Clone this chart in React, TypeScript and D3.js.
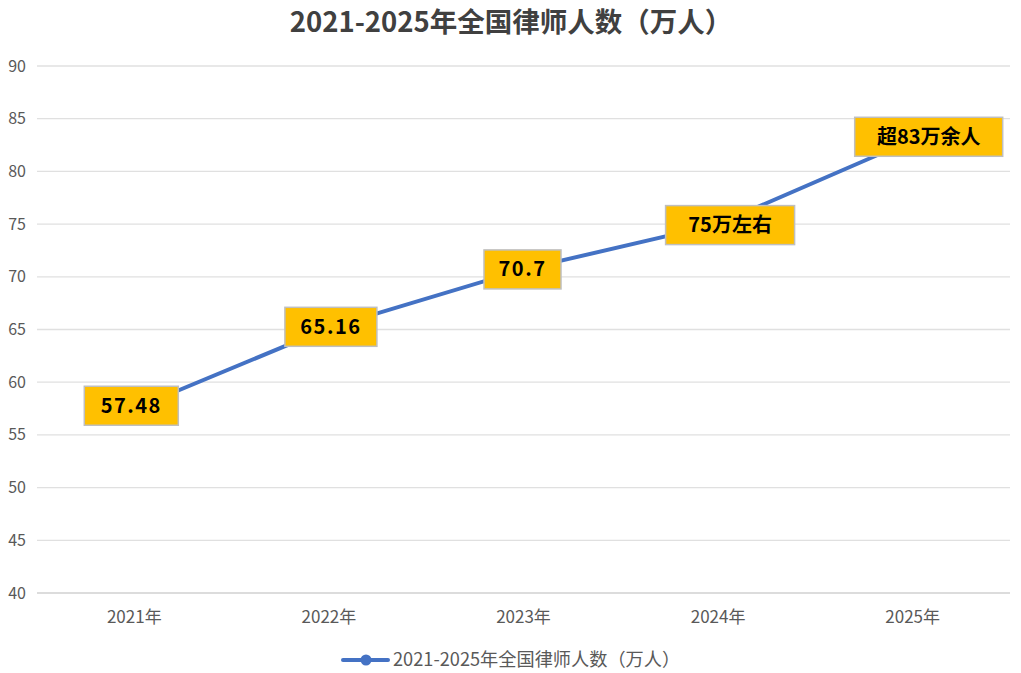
import React from "react";
import * as d3 from "d3";

const categories = ["2021年", "2022年", "2023年", "2024年", "2025年"];
const values = [57.48, 65.16, 70.7, 75, 83];
const labels = ["57.48", "65.16", "70.7", "75万左右", "超83万余人"];
const yTicks = [40, 45, 50, 55, 60, 65, 70, 75, 80, 85, 90];
const title = "2021-2025年全国律师人数（万人）";
const seriesName = "2021-2025年全国律师人数（万人）";

const W = 1021;
const H = 673;
const left = 37;
const right = 1010;
const top = 66;
const bottom = 593;
const font = "'Noto Sans CJK SC', 'Noto Sans', sans-serif";

export default function App() {
  const x = d3.scaleBand<string>().domain(categories).range([left, right]);
  const y = d3.scaleLinear().domain([40, 90]).range([bottom, top]);
  const cx = (c: string) => (x(c) ?? 0) + x.bandwidth() / 2;
  const line = d3
    .line<number>()
    .x((_, i) => cx(categories[i]))
    .y((d) => y(d));
  const labelOffsetX = [-3, 2, -1, 12, 16];
  const labelOffsetY = [-3, -1, 0, 1, -3];
  const boxW = [94, 92, 77, 129, 148];
  const boxH = 39;

  return (
    <svg
      width={W}
      height={H}
      style={{ position: "absolute", left: 0, top: 0, background: "#fff" }}
      fontFamily={font}
    >
      <rect x={0} y={0} width={W} height={H} fill="#fff" />
      <text
        x={511}
        y={32}
        textAnchor="middle"
        fontSize={27.5}
        fontWeight="bold"
        fill="#404040"
      >
        {title}
      </text>
      {yTicks.map((t) => (
        <g key={t}>
          <line
            x1={left}
            x2={right}
            y1={y(t)}
            y2={y(t)}
            stroke={t === 40 ? "#d0d0d0" : "#e0e0e0"}
            strokeWidth={1.3}
          />
          <text
            x={26}
            y={y(t) + 5.5}
            textAnchor="end"
            fontSize={16}
            fill="#595959"
          >
            {t}
          </text>
        </g>
      ))}
      {categories.map((c) => (
        <text
          key={c}
          x={cx(c)}
          y={623}
          textAnchor="middle"
          fontSize={17}
          fill="#595959"
        >
          {c}
        </text>
      ))}
      <path
        d={line(values) ?? ""}
        fill="none"
        stroke="#4472C4"
        strokeWidth={4}
        strokeLinejoin="round"
      />
      {values.map((v, i) => (
        <circle key={i} cx={cx(categories[i])} cy={y(v)} r={5} fill="#4472C4" />
      ))}
      {values.map((v, i) => {
        const bx = cx(categories[i]) + labelOffsetX[i];
        const by = y(v) + labelOffsetY[i];
        return (
          <g key={"l" + i}>
            <rect
              x={bx - boxW[i] / 2}
              y={by - boxH / 2}
              width={boxW[i]}
              height={boxH}
              fill="#FFC000"
              stroke="#BFBFBF"
              strokeWidth={1.5}
            />
            <text
              x={bx}
              y={by + 7}
              textAnchor="middle"
              fontSize={20}
              fontWeight="bold"
              fill="#000"
              letterSpacing={i < 3 ? 1.5 : 0}
            >
              {labels[i]}
            </text>
          </g>
        );
      })}
      <g>
        <line x1={343} x2={388} y1={660} y2={660} stroke="#4472C4" strokeWidth={4} strokeLinecap="round" />
        <circle cx={366} cy={660} r={5.5} fill="#4472C4" />
        <text x={393} y={666} fontSize={18.2} fill="#595959">
          {seriesName}
        </text>
      </g>
    </svg>
  );
}
